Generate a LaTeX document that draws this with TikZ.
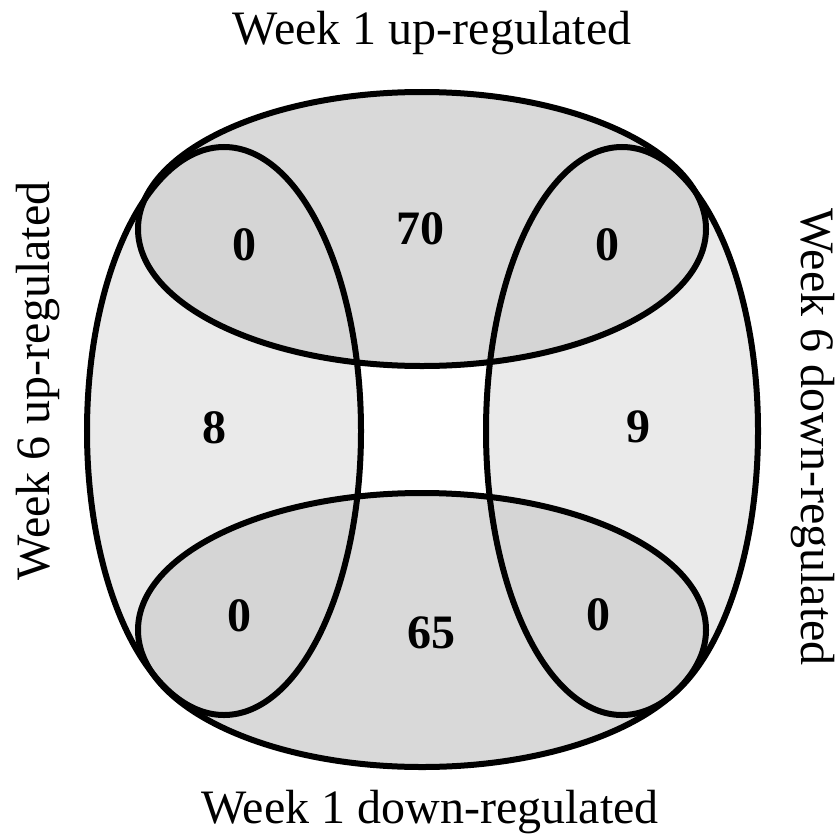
\documentclass[tikz,border=0pt]{standalone}
\usepackage{fontspec}
\setmainfont{Liberation Serif}
\definecolor{vfill}{HTML}{EAEAEA}
\definecolor{hfill}{HTML}{D9D9D9}
\definecolor{ofill}{HTML}{D5D5D5}
\begin{document}
\begin{tikzpicture}[x=1bp,y=-1bp]
\tikzset{
  setline/.style={line width=6bp, draw=black},
  lab/.style={inner sep=0pt, font=\fontsize{48bp}{50bp}\selectfont},
  num/.style={inner sep=0pt, font=\fontsize{48bp}{50bp}\selectfont\bfseries}
}
\useasboundingbox (0,0) rectangle (837,838);
% fills
\fill[vfill] (224,431) ellipse [x radius=137bp, y radius=284bp];
\fill[vfill] (622,431) ellipse [x radius=136bp, y radius=284bp];
\fill[hfill] (422,229) ellipse [x radius=284bp, y radius=137bp];
\fill[hfill] (422,630) ellipse [x radius=284bp, y radius=137bp];
\begin{scope}
  \clip (422,229) ellipse [x radius=284bp, y radius=137bp];
  \fill[ofill] (224,431) ellipse [x radius=137bp, y radius=284bp];
  \fill[ofill] (622,431) ellipse [x radius=136bp, y radius=284bp];
\end{scope}
\begin{scope}
  \clip (422,630) ellipse [x radius=284bp, y radius=137bp];
  \fill[ofill] (224,431) ellipse [x radius=137bp, y radius=284bp];
  \fill[ofill] (622,431) ellipse [x radius=136bp, y radius=284bp];
\end{scope}
% outlines
\draw[setline] (224,431) ellipse [x radius=137bp, y radius=284bp];
\draw[setline] (622,431) ellipse [x radius=136bp, y radius=284bp];
\draw[setline] (422,229) ellipse [x radius=284bp, y radius=137bp];
\draw[setline] (422,630) ellipse [x radius=284bp, y radius=137bp];
% labels
\node[lab, anchor=base] (w1up) at (432,44) {Week 1 up-regulated};
\node[lab, anchor=base] (w1down) at (430,823) {Week 1 down-regulated};
\node[lab, anchor=base, rotate=90] (w6up) at (49,381) {Week 6 up-regulated};
\node[lab, anchor=base, rotate=-90] (w6down) at (801,437) {Week 6 down-regulated};
% numbers
\node[num] (n70) at (420,229) {70};
\node[num] (ntl) at (244,245) {0};
\node[num] (ntr) at (607,245) {0};
\node[num] (n8) at (214,428) {8};
\node[num] (n9) at (638,427) {9};
\node[num] (nbl) at (239,616) {0};
\node[num] (n65) at (431,633) {65};
\node[num] (nbr) at (598,615) {0};
\end{tikzpicture}
\end{document}
